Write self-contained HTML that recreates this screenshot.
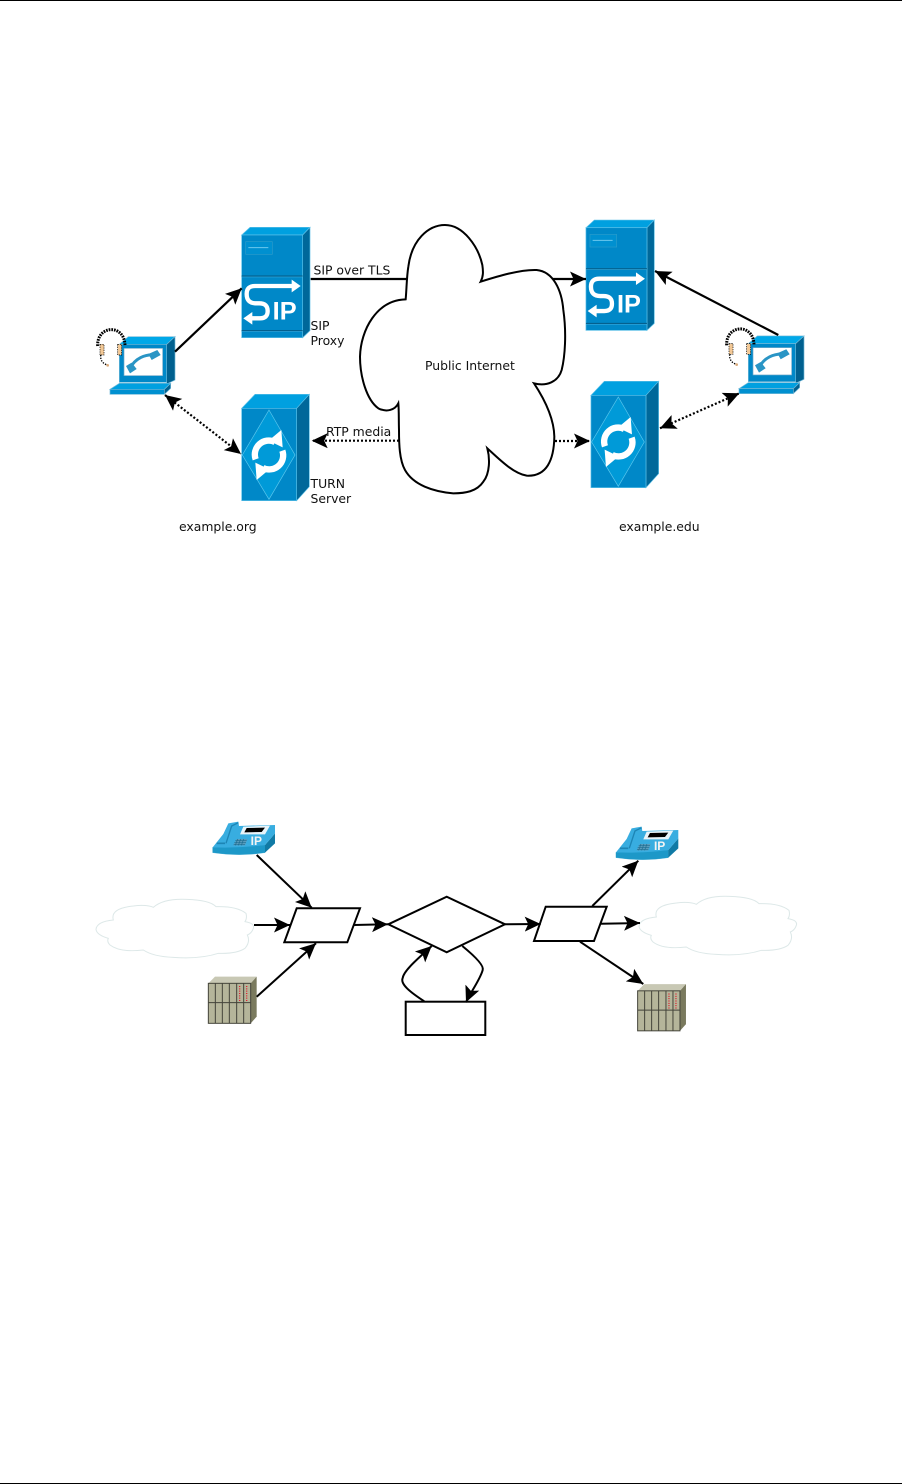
<!DOCTYPE html>
<html><head><meta charset="utf-8"><style>
html,body{margin:0;padding:0;background:#fff;width:902px;height:1484px;overflow:hidden}
svg{display:block}
text{font-family:"DejaVu Sans","Liberation Sans",sans-serif;font-size:12.4px;fill:#111}
</style></head><body>
<svg width="902" height="1484" viewBox="0 0 902 1484" xmlns="http://www.w3.org/2000/svg">
<defs>
<marker id="a" markerUnits="userSpaceOnUse" markerWidth="18" markerHeight="16" refX="16" refY="8" orient="auto-start-reverse" viewBox="0 0 18 16"><path d="M16,8 L0,0.5 L3.5,8 L0,15.5 Z" fill="#000"/></marker>
<g id="sip">
<path d="M485,75 L510,52 L690,52 L668,75Z" fill="#00a0e0" stroke="#5cc0e8" stroke-width="2"/>
<path d="M668,75 L690,52 L690,362 L668,383Z" fill="#00689a" stroke="#5cc0e8" stroke-width="2"/>
<rect x="485" y="75" width="183" height="308" fill="#0088c8" stroke="#5cc0e8" stroke-width="2"/>
<path d="M485,198H668M485,362H668" stroke="#045a85" stroke-width="3"/>
<path d="M485,201H668M485,365H668" stroke="#45b0e0" stroke-width="1.5"/>
<rect x="497" y="95" width="80" height="38" fill="#0090d0" stroke="#2a9ccb" stroke-width="2"/>
<path d="M505,113H565" stroke="#6cc8ee" stroke-width="3"/>
<path d="M640,228 L525,228 Q500,228 500,252 Q500,280 528,280 L538,280 Q563,280 563,303 Q563,325 540,325 L510,325" fill="none" stroke="#fff" stroke-width="13"/>
<path d="M662,228 L635,209 L635,247Z M490,325 L517,306 L517,344Z" fill="#fff"/>
<text x="578" y="329" style="font-family:'Liberation Sans',sans-serif;font-size:76px;font-weight:bold;fill:#fff">IP</text>
</g>
<g id="turn">
<path d="M485,595 L525,553 L688,553 L650,595Z" fill="#00a0e0" stroke="#5cc0e8" stroke-width="2"/>
<path d="M650,595 L688,553 L688,830 L650,872Z" fill="#00689a" stroke="#5cc0e8" stroke-width="2"/>
<rect x="485" y="595" width="165" height="277" fill="#0088c8" stroke="#5cc0e8" stroke-width="2"/>
<path d="M567,600 L645,735 L567,868 L487,735Z" fill="#009ad8" stroke="#5cc8ee" stroke-width="2"/>
<g id="ar">
<path d="M527,748 A42,42 0 0 1 585,696" fill="none" stroke="#fff" stroke-width="19"/>
<path d="M604,660 L608,712 L566,692Z" fill="#fff"/>
</g>
<g transform="rotate(180 567 735)"><use href="#ar"/></g>
</g>
<g id="lap">
<path d="M118,403 L145,380 L285,380 L260,403Z" fill="#00a8e8" stroke="#70b8d8" stroke-width="2"/>
<path d="M260,403 L285,380 L285,510 L260,522Z" fill="#00608f" stroke="#70b8d8" stroke-width="2"/>
<rect x="118" y="403" width="142" height="114" fill="#0088c8" stroke="#70b8d8" stroke-width="2"/>
<rect x="132" y="415" width="116" height="82" fill="#fff" stroke="#70a8c8" stroke-width="2"/>
<path d="M150,475 C165,445 195,432 225,435" fill="none" stroke="#2a95c5" stroke-width="9"/>
<path d="M138,468 L155,458 L170,477 L150,490Z M205,432 L232,420 L242,435 L215,450Z" fill="#2a95c5"/>
<path d="M90,538 L118,520 L272,520 L253,538Z" fill="#00a0e0" stroke="#70b8d8" stroke-width="2"/>
<rect x="90" y="538" width="163" height="15" fill="#0090d0" stroke="#70b8d8" stroke-width="2"/>
<path d="M253,538 L272,520 L272,535 L253,553Z" fill="#00608f" stroke="#70b8d8" stroke-width="2"/>
<path d="M53,408 C50,345 135,340 135,408" fill="none" stroke="#000" stroke-width="9" stroke-dasharray="5 3"/>
<rect x="60" y="403" width="12" height="32" fill="#f2c896" stroke="#000" stroke-width="2" stroke-dasharray="4 3"/>
<rect x="113" y="403" width="12" height="32" fill="#f2c896" stroke="#000" stroke-width="2" stroke-dasharray="4 3"/>
<path d="M62,435 Q60,458 82,465" fill="none" stroke="#000" stroke-width="4" stroke-dasharray="4 4"/>
<circle cx="83" cy="466" r="4" fill="#d8a878"/>
</g>
<g id="phone">
<path d="M368,112 L368,128 Q450,140 525,128 L525,105Z" fill="#1d98c8" stroke="#1d98c8"/>
<path d="M525,128 L555,100 L555,70 L525,105Z" fill="#107aa5"/>
<path d="M368,112 L400,72 L415,40 L445,35 L447,48 L555,45 L555,70 L525,105 Q450,115 368,112Z" fill="#38ade0"/>
<path d="M408,100 L425,48 L445,38" fill="none" stroke="#1d85b5" stroke-width="4"/>
<path d="M380,100 L405,100" stroke="#1d85b5" stroke-width="5"/>
<path d="M460,50 L540,47 L525,73 L450,73Z" fill="#e8f4fa"/>
<path d="M470,54 L525,53 L515,66 L463,67Z" fill="#000"/>
<path d="M430,106 L440,87 L472,87 L465,106Z" fill="#5a9cbc"/>
<path d="M436,92H470M433,98H468M431,103H465M443,87L436,106M452,87L445,106M461,87L454,106" stroke="#1d6e92" stroke-width="2"/>
<text x="482" y="105" style="font-family:'Liberation Sans',sans-serif;font-size:36px;font-weight:bold;fill:#f4f4f4">IP</text>
</g>
<path id="lc" d="M70,330 Q60,295 130,288 Q170,283 190,292 Q220,265 290,268 Q360,270 378,290 Q440,288 468,310 Q472,325 465,335 Q495,340 490,355 Q485,370 472,375 Q482,395 465,415 Q440,432 385,430 Q330,448 250,442 Q190,440 160,420 Q90,428 60,405 Q50,395 55,385 Q20,375 18,358 Q20,335 70,330Z" fill="#fff" stroke="#dde8e8" stroke-width="3"/>
<g id="rack">
<path d="M355,520 L375,500 L500,500 L482,520Z" fill="#c8c8b4"/>
<path d="M482,520 L500,500 L500,620 L482,640Z" fill="#7a7a5e"/>
<rect x="355" y="520" width="127" height="120" fill="#b5b59a" stroke="#44443a" stroke-width="3"/>
<path d="M376,520V640M397,520V640M418,520V640M440,520V640M461,520V640M355,578H482" stroke="#44443a" stroke-width="3"/>
<path d="M449,528V574M470,528V574" stroke="#e02030" stroke-width="4" stroke-dasharray="3 4"/>
</g>
</defs>

<rect x="0" y="0" width="902" height="1" fill="#000"/>
<rect x="0" y="1483" width="902" height="1" fill="#000"/>

<g transform="translate(80,210) scale(.33333)"><use href="#sip"/><use href="#turn"/><use href="#lap"/></g>
<g transform="translate(424.3,202.7) scale(.33333)"><use href="#sip"/></g>
<g transform="translate(429.3,197) scale(.33333)"><use href="#turn"/></g>
<g transform="translate(709,209.3) scale(.33333)"><use href="#lap"/></g>

<g fill="none" stroke="#000" stroke-width="2.2">
<path d="M175,351.7 L241.7,288.3" marker-end="url(#a)"/>
<path d="M310.7,279 L407,279"/>
<path d="M551,279 L586,279" marker-end="url(#a)"/>
<path d="M778.3,335 L655,271" marker-end="url(#a)"/>
<g stroke-dasharray="2 2">
<path d="M165,395 L241,454" marker-start="url(#a)" marker-end="url(#a)"/>
<path d="M399,440.7 L311.7,440.7" marker-end="url(#a)"/>
<path d="M555,441 L590,441" marker-end="url(#a)"/>
<path d="M660,428.3 L739.3,393.3" marker-start="url(#a)" marker-end="url(#a)"/>
</g>
</g>

<g transform="translate(350,210) scale(.33333)">
<path d="M167,268 C170,235 170,200 175,170 C185,90 235,45 285,45 C340,45 385,110 397,165 C400,185 400,200 392,215 C440,200 510,178 560,180 C610,185 635,240 640,300 C650,370 645,440 635,480 C625,515 590,530 552,520 C585,570 612,625 613,680 C612,750 590,800 530,797 C490,790 450,750 412,715 C420,745 420,790 400,815 C380,845 345,850 310,850 C250,845 190,825 165,780 C148,750 147,700 147,660 C146,630 147,600 145,580 C135,600 110,608 85,595 C50,570 30,500 30,440 C32,360 80,270 167,268Z" fill="#fff" stroke="#000" stroke-width="6"/>
</g>

<text x="313.5" y="274.5">SIP over TLS</text>
<text x="310.5" y="330">SIP</text>
<text x="310.5" y="345">Proxy</text>
<text x="326" y="436">RTP media</text>
<text x="310.5" y="488">TURN</text>
<text x="310.5" y="503">Server</text>
<text x="179" y="531">example.org</text>
<text x="619" y="531">example.edu</text>
<text x="425" y="370">Public Internet</text>

<g transform="translate(90,810) scale(.33333)"><use href="#phone"/><use href="#lc"/><use href="#rack"/></g>
<g transform="translate(493.3,815) scale(.33333)"><use href="#phone"/></g>
<g transform="translate(633,807) scale(.33333)"><use href="#lc"/></g>
<g transform="translate(519.3,817.5) scale(.33333)"><use href="#rack"/></g>

<g fill="#fff" stroke="#000" stroke-width="2">
<path d="M296.7,908.3 L360,908.3 L347.3,942.3 L284.3,942.3Z"/>
<path d="M388.3,924.3 L446.7,896.7 L505,924.3 L446.7,952.3Z"/>
<path d="M545.7,906.7 L606.7,906.7 L594,941 L534,941Z"/>
<rect x="405.7" y="1001.7" width="79.6" height="33.3"/>
</g>
<g fill="none" stroke="#000" stroke-width="2">
<path d="M256.7,855 L311.7,907.7" marker-end="url(#a)"/>
<path d="M254,925 L290,925" marker-end="url(#a)"/>
<path d="M256.7,996.7 L316,943.3" marker-end="url(#a)"/>
<path d="M354,925 L388,924.3" marker-end="url(#a)"/>
<path d="M505,924.3 L540.7,924" marker-end="url(#a)"/>
<path d="M592.3,906 L638.3,860.7" marker-end="url(#a)"/>
<path d="M600.7,923.7 L640,923" marker-end="url(#a)"/>
<path d="M580,941.7 L643.3,984" marker-end="url(#a)"/>
<path d="M424.3,1001.3 C410,992 400,984 402.7,978 C404,970 420,957 431.7,946" marker-end="url(#a)"/>
<path d="M462.3,946 C477,958 484,966 482.7,970 C480,980 470,993 466,1002.3" marker-end="url(#a)"/>
</g>
</svg>
</body></html>
